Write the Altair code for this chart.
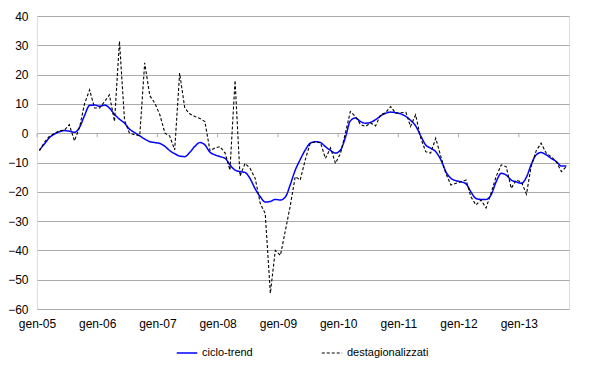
import altair as alt
import pandas as pd

# monthly series, Jan 2005 .. Oct 2013
ciclo_trend = [
    -5.7, -3.6, -1.6, -0.3, 0.5, 0.9, 0.7, 0.3, 2.0, 6.0, 9.5, 9.6,
    9.2, 9.6, 8.6, 6.4, 4.8, 3.4, 1.4, 0.2, -0.9, -2.0, -2.9, -3.2,
    -3.5, -4.5, -5.9, -7.0, -7.8, -8.0, -6.6, -4.5, -3.2, -4.0, -6.5, -7.4,
    -8.0, -8.6, -10.8, -12.6, -13.1, -13.4, -15.5, -19.0, -21.7, -23.5, -23.3, -22.6,
    -22.8, -21.7, -17.7, -12.6, -9.0, -5.7, -3.4, -2.9, -3.2, -4.6, -5.9, -6.8,
    -5.7, -1.1, 4.2, 5.2, 4.0, 3.4, 3.7, 4.6, 5.9, 6.8, 7.2, 7.0,
    6.6, 5.7, 4.4, 2.5, -0.8, -4.0, -5.1, -6.3, -9.1, -13.1, -15.4, -16.2,
    -16.6, -17.3, -20.0, -22.3, -22.6, -22.6, -21.1, -16.6, -13.7, -14.3, -16.0, -16.6,
    -17.1, -15.0, -10.8, -7.4, -6.6, -7.4, -8.6, -9.7, -11.2, -11.2,
]
destagionalizzati = [
    -6.0, -3.0, -1.1, -0.2, 0.9, 1.0, 2.9, -2.6, 2.0, 10.0, 14.8, 8.6,
    8.6, 10.9, 13.1, 4.0, 31.4, 4.3, 0.0, -0.5, -0.9, 24.0, 12.8, 10.3,
    6.3, 0.0, -0.9, -5.7, 20.5, 8.6, 6.6, 5.7, 5.0, 4.0, -6.0, -5.0,
    -4.6, -6.8, -12.6, 18.0, -14.6, -10.3, -12.0, -15.4, -24.0, -27.4, -54.6, -40.0,
    -41.7, -33.0, -25.0, -14.8, -16.0, -9.0, -3.4, -3.0, -3.2, -8.6, -5.0, -10.3,
    -6.8, 0.5, 7.4, 5.7, 3.0, 2.3, 3.5, 2.5, 6.3, 7.0, 9.1, 6.8,
    7.0, 7.1, 2.3, 6.3, -1.5, -6.3, -6.8, -1.7, -8.0, -13.7, -17.7, -17.1,
    -16.6, -16.0, -21.7, -24.5, -22.8, -25.5, -20.5, -14.8, -10.8, -11.4, -18.8, -16.0,
    -16.6, -20.8, -11.5, -6.0, -3.4, -6.8, -8.0, -9.7, -13.1, -11.4,
]
series_names = ["ciclo-trend", "destagionalizzati"]
year_ticks = [2005, 2006, 2007, 2008, 2009, 2010, 2011, 2012, 2013]
y_ticks = [-60, -50, -40, -30, -20, -10, 0, 10, 20, 30, 40]

n = len(ciclo_trend)
months = (pd.date_range("2005-01-01", periods=n, freq="MS") + pd.Timedelta(days=15)).strftime("%Y-%m-%d").tolist()

df = pd.DataFrame({
    "mese": months * 2,
    "valore": ciclo_trend + destagionalizzati,
    "serie": [series_names[0]] * n + [series_names[1]] * n,
})
ticks_df = pd.DataFrame({"anno": [f"{y}-01-01" for y in year_ticks], "zero": [0] * len(year_ticks)})

x_scale = alt.Scale(type="utc", domain=["2005-01-01", "2013-11-01"])
y_scale = alt.Scale(domain=[-60, 40], nice=False)

legend = alt.Legend(
    title=None, orient="none", direction="horizontal", legendX=139, legendY=326,
    symbolType="stroke", symbolSize=420, labelFontSize=11, labelFont="Liberation Sans",
    labelColor="#000000", labelOffset=4, columnPadding=66, padding=0,
)
color = alt.Color("serie:N", scale=alt.Scale(domain=series_names, range=["#0000ff", "#000000"]), legend=legend)
dash = alt.StrokeDash("serie:N", scale=alt.Scale(domain=series_names, range=[[1, 0], [3, 2]]), legend=legend)
width_enc = alt.StrokeWidth("serie:N", scale=alt.Scale(domain=series_names, range=[1.5, 1.1]), legend=legend)

x_axis = alt.Axis(
    values=[alt.DateTime(year=y, month=1, date=1, utc=True) for y in year_ticks],
    labelExpr="'gen-' + utcFormat(datum.value, '%y')",
    grid=False, domain=False, ticks=False, labelPadding=9,
    labelFontSize=12, labelFont="Liberation Sans", labelColor="#000000",
    labelAlign="center", labelOverlap=False,
)
y_axis = alt.Axis(
    values=y_ticks, tickCount=11, grid=True, gridColor="#ababab", gridWidth=1,
    domain=False, ticks=False, labelPadding=9, labelOverlap=False,
    labelFontSize=12, labelFont="Liberation Sans", labelColor="#000000",
)

x_enc = alt.X("mese:T", scale=x_scale, title=None, axis=x_axis)
y_enc = alt.Y("valore:Q", scale=y_scale, title=None, axis=y_axis)

trend = alt.Chart(df).transform_filter(alt.datum.serie == series_names[0]).mark_line(
    interpolate="monotone"
).encode(x=x_enc, y=y_enc, color=color, strokeDash=dash, strokeWidth=width_enc)

dest = alt.Chart(df).transform_filter(alt.datum.serie == series_names[1]).mark_line(
    interpolate="linear"
).encode(x=x_enc, y=y_enc, color=color, strokeDash=dash, strokeWidth=width_enc)

tick_marks = alt.Chart(ticks_df).mark_tick(
    orient="vertical", size=4, thickness=1, color="#8c8c8c", yOffset=2
).encode(
    x=alt.X("anno:T", scale=x_scale, title=None, axis=x_axis),
    y=alt.Y("zero:Q", scale=y_scale, title=None, axis=y_axis),
)

chart = alt.layer(tick_marks, trend, dest).properties(
    width=532, height=293,
    autosize=alt.AutoSizeParams(type="none"),
    padding={"left": 29, "top": 8, "right": 23, "bottom": 49},
).configure_view(stroke="#a0a0a0", strokeWidth=1).configure(background="#ffffff")

chart.save("out.html", embed_options={"renderer": "svg", "actions": False})
